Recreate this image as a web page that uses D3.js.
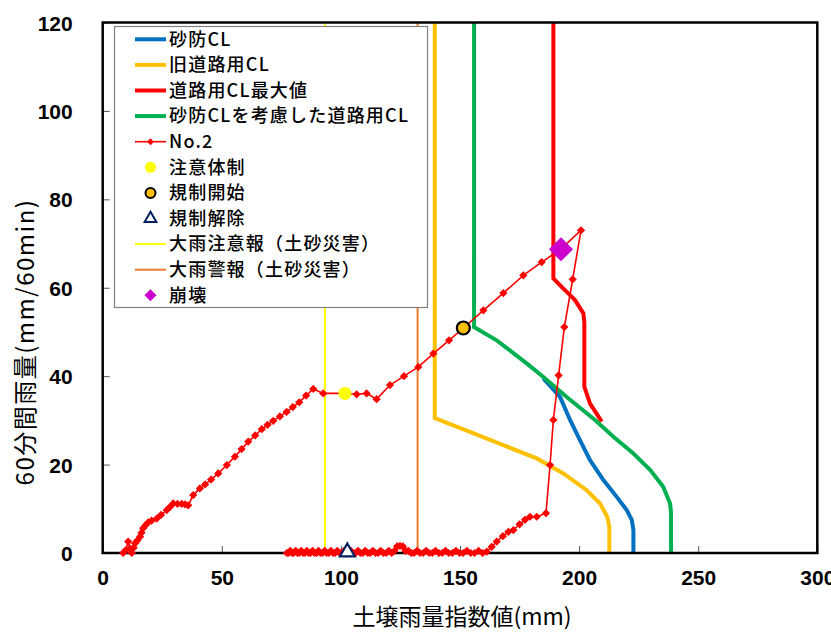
<!DOCTYPE html>
<html><head><meta charset="utf-8">
<script src="https://cdn.jsdelivr.net/npm/d3@7"></script>
<style>body{margin:0;background:#fff}</style>
</head><body><svg id="c" width="831" height="632"></svg>
<script>
// ---- data ----
const xTicks = [0, 50, 100, 150, 200, 250, 300];
const yTicks = [0, 20, 40, 60, 80, 100, 120];

// 砂防CL
const sabouX = [185.0, 192.0, 196.2, 200.4, 204.6, 210.2, 215.8, 220.0, 222.1, 222.8, 222.8];
const sabouY = [39.5, 35.3, 30.1, 25.5, 21.0, 16.5, 12.7, 9.7, 7.5, 5.2, 0];
// 旧道路用CL
const oldRoadX = [139.4, 139.4, 154.2, 168.2, 182.2, 193.4, 203.2, 208.8, 211.8, 212.7, 212.7];
const oldRoadY = [120, 30.5, 27.4, 24.4, 21.4, 18.0, 14.2, 11.2, 8.2, 5.9, 0];
// 道路用CL最大値
const roadMaxX = [189.2, 189.2, 193.4, 198.3, 201.8, 202.2, 202.2, 204.6, 209.5];
const roadMaxY = [120, 62.1, 59.8, 57.2, 54.2, 52.0, 37.6, 33.8, 29.7];
// 砂防CLを考慮した道路用CL
const roadSabouX = [155.9, 155.9, 165.4, 178.0, 185.0, 194.8, 206.7, 214.4, 222.8, 229.8, 235.3, 238.2, 238.6, 238.6];
const roadSabouY = [120, 51.1, 48.1, 42.9, 39.8, 35.3, 30.1, 26.3, 22.5, 18.8, 15.0, 11.2, 9.0, 0];

// No.2 (soil water index, 60-min rainfall)
const no2X = [8.6, 9.6, 10.7, 11.5, 12.2, 13.0, 13.6, 14.5, 15.7, 16.3, 17.0, 18.0, 19.1, 20.5, 22.7, 24.5, 26.9, 28.2, 29.6, 31.4, 33.2, 34.6, 35.9, 38.0, 40.8, 43.0, 45.5, 48.5, 52.1, 55.5, 58.3, 61.1, 64.0, 66.8, 69.2, 71.6, 74.4, 77.2, 79.8, 82.5, 85.4, 88.4, 92.6, 101.7, 106.6, 110.8, 115.0, 120.6, 126.5, 132.5, 138.8, 145.4, 151.4, 159.8, 168.2, 176.6, 184.3, 192.3, 200.8, 197.3, 193.8, 191.4, 189.2, 187.8, 186.1, 182.2, 179.4, 177.3, 175.0, 172.4, 170.3, 168.0, 165.4, 163.3, 161.2,
  159.5, 157.8, 156.1, 154.5, 152.9, 151.3, 149.8, 148.3, 146.8, 145.3, 143.9, 142.5, 141.1, 139.7, 138.4, 137.1, 135.8, 134.5, 133.2, 132.0, 130.7, 129.5, 128.3, 127.1, 126.0, 124.8, 123.6, 122.5, 121.3, 120.1, 119.0, 117.8, 116.7, 115.6, 114.5, 113.4, 112.3, 111.3, 110.2, 109.2, 108.2, 107.2, 106.2, 105.2, 104.2, 103.2, 102.3, 101.3, 100.4, 99.5, 98.5, 97.6, 96.7, 95.8, 94.9, 94.0, 93.2, 92.3, 91.4, 90.6, 89.8, 88.9, 88.1, 87.3, 86.5, 85.7, 84.9, 84.1, 83.3, 82.5, 81.7, 81.0, 80.2, 79.5, 78.7, 78.0, 77.3];
const no2Y = [0, 0.6, 2.6, 1.0, 0, 1.2, 2.2, 2.8, 3.7, 4.6, 5.6, 6.3, 6.9, 7.3, 7.8, 8.6, 9.7, 10.4, 11.2, 11.1, 11.1, 11.0, 10.8, 13.1, 14.6, 15.5, 16.6, 18.0, 19.9, 21.8, 23.5, 25.2, 26.6, 28.0, 29.0, 29.9, 30.9, 31.9, 33.0, 34.1, 35.6, 37.1, 36.1, 36.1, 35.9, 36.1, 34.8, 38.0, 40.0, 42.1, 45.1, 48.1, 50.9, 54.9, 58.8, 62.8, 65.8, 68.7, 73.0, 61.9, 51.1, 40.2, 30.1, 19.9, 9.0, 8.2, 8.2, 7.5, 6.5, 5.2, 4.8, 3.8, 2.6, 1.4, 0.3,
  0, 0.5, 0, 0, 0.5, 0, 0, 0.5, 0, 0, 0.5, 0, 0, 0.5, 0, 0, 0.5, 0, 0, 0.5, 0, 0, 0.5, 0.5, 1.5, 1.6, 1.5, 0.5, 0, 0.5, 0, 0, 0.5, 0, 0, 0.5, 0, 0, 0.5, 0, 0, 0.5, 0, 0, 0.5, 0, 0, 0.5, 0, 0, 0.5, 0, 0, 0.5, 0, 0, 0.5, 0, 0, 0.5, 0, 0, 0.5, 0, 0, 0.5, 0, 0, 0.5, 0, 0, 0.5, 0, 0, 0.5, 0, 0];

// events
const cautionX = 101.7, cautionY = 36.1;      // 注意体制
const startX = 151.4, startY = 50.9;          // 規制開始
const releaseX = 102.7, releaseY = 0;         // 規制解除
const heavyRainAdvX = 93.3;                   // 大雨注意報（土砂災害）
const heavyRainWarnX = 132.2;                 // 大雨警報（土砂災害）
const collapseX = 192.4, collapseY = 68.7;    // 崩壊

const legendLabels = ["砂防CL", "旧道路用CL", "道路用CL最大値", "砂防CLを考慮した道路用CL", "No.2", "注意体制", "規制開始", "規制解除", "大雨注意報（土砂災害）", "大雨警報（土砂災害）", "崩壊"];

// ---- drawing ----
const svg = d3.select("#c");
const x = d3.scaleLinear().domain([0, 300]).range([102.7, 817.3]);
const y = d3.scaleLinear().domain([0, 120]).range([553, 22.5]);
const zip = (a, b) => a.map((v, i) => [v, b[i]]);
const line = d3.line().x(d => x(d[0])).y(d => y(d[1]));

const C = {blue: "#0070C0", gold: "#FFC000", red: "#FF0000", green: "#00B050", yellow: "#FFFF00", orange: "#ED7D31", navy: "#002060", magenta: "#CC00CC"};
const rhomb = s => d3.symbol().type(d3.symbolSquare).size(s)();

svg.append("defs").append("clipPath").attr("id", "clip")
  .append("rect").attr("x", x(0)).attr("y", y(120)).attr("width", x(300) - x(0)).attr("height", y(0) - y(120));

// axes with inward ticks
const xAxis = d3.axisBottom(x).tickValues(xTicks).tickSize(-7).tickPadding(17).tickFormat(d3.format("d"));
const yAxis = d3.axisLeft(y).tickValues(yTicks).tickSize(-7).tickPadding(30).tickFormat(d3.format("d"));
const gx = svg.append("g").attr("transform", `translate(0,${y(0)})`).call(xAxis);
const gy = svg.append("g").attr("transform", `translate(${x(0)},0)`).call(yAxis);
[gx, gy].forEach(g => {
  g.select(".domain").remove();
  g.selectAll(".tick line").attr("stroke", "#555").attr("stroke-width", 1);
  g.selectAll(".tick text").attr("font-family", "'Liberation Sans', Arial, sans-serif")
    .attr("font-weight", "bold").attr("font-size", 21).attr("fill", "#000");
});
gx.selectAll(".tick text").attr("dy", "0.7em");
gy.selectAll(".tick text").attr("text-anchor", "end").attr("dy", "0.36em");

const plot = svg.append("g").attr("clip-path", "url(#clip)");
plot.append("path").attr("d", line(zip(sabouX, sabouY))).attr("fill", "none").attr("stroke", C.blue).attr("stroke-width", 4);
plot.append("path").attr("d", line(zip(oldRoadX, oldRoadY))).attr("fill", "none").attr("stroke", C.gold).attr("stroke-width", 4);
plot.append("path").attr("d", line(zip(roadMaxX, roadMaxY))).attr("fill", "none").attr("stroke", C.red).attr("stroke-width", 4);
plot.append("path").attr("d", line(zip(roadSabouX, roadSabouY))).attr("fill", "none").attr("stroke", C.green).attr("stroke-width", 4);

// frame
svg.append("rect").attr("x", x(0)).attr("y", y(120)).attr("width", x(300) - x(0)).attr("height", y(0) - y(120))
  .attr("fill", "none").attr("stroke", "#000").attr("stroke-width", 2.5);

// No.2 series
const no2 = zip(no2X, no2Y);
const noG = svg.append("g");
noG.append("path").attr("d", line(no2)).attr("fill", "none").attr("stroke", C.red).attr("stroke-width", 1.6);
noG.selectAll("path.m").data(no2).join("path").attr("class", "m")
  .attr("d", rhomb(34)).attr("transform", d => `translate(${x(d[0])},${y(d[1])}) rotate(45)`).attr("fill", C.red);

// advisory / warning vertical lines
plot.append("line").attr("x1", x(heavyRainAdvX)).attr("x2", x(heavyRainAdvX)).attr("y1", y(120)).attr("y2", y(0)).attr("stroke", C.yellow).attr("stroke-width", 2);
plot.append("line").attr("x1", x(heavyRainWarnX)).attr("x2", x(heavyRainWarnX)).attr("y1", y(120)).attr("y2", y(0)).attr("stroke", C.orange).attr("stroke-width", 2);

// event markers
svg.append("circle").attr("cx", x(cautionX)).attr("cy", y(cautionY)).attr("r", 6.5).attr("fill", C.yellow);
svg.append("circle").attr("cx", x(startX)).attr("cy", y(startY)).attr("r", 6.5).attr("fill", C.gold).attr("stroke", "#000").attr("stroke-width", 2.2);
svg.append("path").attr("d", d3.symbol().type(d3.symbolTriangle).size(95)).attr("transform", `translate(${x(releaseX)},${y(releaseY) - 1})`)
  .attr("fill", "#fff").attr("stroke", C.navy).attr("stroke-width", 2.2);
svg.append("path").attr("d", rhomb(290)).attr("transform", `translate(${x(collapseX)},${y(collapseY)}) rotate(45)`).attr("fill", C.magenta);

// legend
const lg = svg.append("g");
lg.append("rect").attr("x", 114.5).attr("y", 26.5).attr("width", 313).attr("height", 281).attr("fill", "#fff").attr("stroke", "#808080").attr("stroke-width", 1.2);
const rowY = i => 39.3 + i * 25.6;
const lx1 = 135, lx2 = 166, lc = 150.5;
const lineRow = (i, col, w) => lg.append("line").attr("x1", lx1).attr("x2", lx2).attr("y1", rowY(i)).attr("y2", rowY(i)).attr("stroke", col).attr("stroke-width", w);
lineRow(0, C.blue, 4); lineRow(1, C.gold, 4); lineRow(2, C.red, 4); lineRow(3, C.green, 4);
lineRow(4, C.red, 1.6);
lg.append("path").attr("d", rhomb(24)).attr("transform", `translate(${lc},${rowY(4)}) rotate(45)`).attr("fill", C.red);
lg.append("circle").attr("cx", lc).attr("cy", rowY(5)).attr("r", 5.5).attr("fill", C.yellow);
lg.append("circle").attr("cx", lc).attr("cy", rowY(6)).attr("r", 5).attr("fill", C.gold).attr("stroke", "#000").attr("stroke-width", 2);
lg.append("path").attr("d", d3.symbol().type(d3.symbolTriangle).size(60)).attr("transform", `translate(${lc},${rowY(7)})`).attr("fill", "#fff").attr("stroke", C.navy).attr("stroke-width", 2);
lineRow(8, C.yellow, 2); lineRow(9, C.orange, 2);
lg.append("path").attr("d", rhomb(72)).attr("transform", `translate(${lc},${rowY(10)}) rotate(45)`).attr("fill", C.magenta);
lg.selectAll("text").data(legendLabels).join("text")
  .attr("x", 169).attr("y", (d, i) => rowY(i)).attr("dy", "0.35em")
  .attr("font-family", "'Noto Sans CJK JP', sans-serif").attr("font-size", 18).attr("font-weight", 500).attr("letter-spacing", 1.2)
  .attr("fill", "#000").text(d => d);

// axis titles
svg.append("text").attr("x", 462).attr("y", 617).attr("text-anchor", "middle").attr("dy", "0.35em")
  .attr("font-family", "'Noto Sans CJK JP', sans-serif").attr("font-size", 23).attr("fill", "#000").text("土壌雨量指数値(mm)");
svg.append("text").attr("transform", "translate(26,342) rotate(-90)").attr("text-anchor", "middle").attr("dy", "0.35em")
  .attr("font-family", "'Noto Sans CJK JP', sans-serif").attr("font-size", 24).attr("letter-spacing", 1.5).attr("fill", "#000").text("60分間雨量(mm/60min)");
</script></body></html>
